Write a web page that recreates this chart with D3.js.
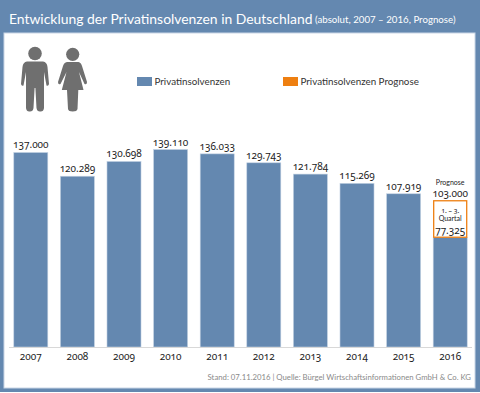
<!DOCTYPE html>
<html><head><meta charset="utf-8">
<script src="https://cdn.jsdelivr.net/npm/d3@7"></script>
<style>
html,body{margin:0;padding:0;background:#fff}
svg{display:block}
text{font-family:Lato,"Open Sans",sans-serif}
text.num,.tick text,tspan.num{font-family:"Noto Sans",Lato,sans-serif;font-variant-numeric:oldstyle-nums;font-feature-settings:"onum" 1}
</style></head><body>
<div id="c"></div>
<script>
const years=["2007","2008","2009","2010","2011","2012","2013","2014","2015","2016"];
const values=[137000,120289,130698,139110,136033,129743,121784,115269,107919,77325];
const labels=["137.000","120.289","130.698","139.110","136.033","129.743","121.784","115.269","107.919"];
const forecastYear="2016", forecastTotal=103000, forecastLabel="103.000", partialLabel="77.325";
const legendItems=["Privatinsolvenzen","Privatinsolvenzen Prognose"];
const title="Entwicklung der Privatinsolvenzen in Deutschland", subtitle="(absolut, 2007 – 2016, Prognose)";
const source="Stand: 07.11.2016 | Quelle: Bürgel Wirtschaftsinformationen GmbH & Co. KG";

const W=480,H=393,blue="#6488b0",orange="#ee7f11",ink="#222";
const svg=d3.select("#c").append("svg").attr("width",W).attr("height",H);
svg.append("rect").attr("width",W).attr("height",392).attr("fill",blue);
svg.append("rect").attr("x",4).attr("y",33).attr("width",471).attr("height",355).attr("fill","#fff").attr("stroke","#c9d6e6").attr("stroke-width",1);

svg.append("text").attr("x",9).attr("y",23.5).attr("fill","#fff").attr("font-size",13.9).text(title);
svg.append("text").attr("x",315).attr("y",23).attr("fill","#fff").attr("font-size",9.7).text(subtitle);

const x=d3.scaleBand().domain(years).range([7.5,473.5]).paddingInner(0.27).paddingOuter(0.135);
const y=d3.scaleLinear().domain([0,139110]).range([347,149.5]);

svg.append("g").selectAll("rect").data(years).join("rect")
 .attr("x",d=>x(d)).attr("width",x.bandwidth())
 .attr("y",(d,i)=>y(values[i])).attr("height",(d,i)=>y(0)-y(values[i]))
 .attr("fill",blue).attr("stroke","#c3d2e3").attr("stroke-width",0.6);

svg.append("rect").attr("x",x(forecastYear)+0.5).attr("width",x.bandwidth()-1)
 .attr("y",y(forecastTotal)).attr("height",y(values[9])-y(forecastTotal))
 .attr("fill","#fff").attr("stroke",orange).attr("stroke-width",1.3);

svg.append("g").selectAll("text").data(labels).join("text").attr("class","num")
 .attr("x",(d,i)=>x(years[i])+x.bandwidth()/2).attr("y",(d,i)=>y(values[i])-4)
 .attr("text-anchor","middle").attr("font-size",10).attr("fill",ink).text(d=>d);

const cx=x(forecastYear)+x.bandwidth()/2;
const note=(t,py,fs,c)=>svg.append("text").attr("class",c).attr("x",cx).attr("y",py).attr("text-anchor","middle").attr("font-size",fs).attr("fill",ink).text(t);
note("Prognose",185,7);
note(forecastLabel,197,10,"num");
note("1. – 3.",213,6.8,"num");
note("Quartal",220.5,7);
note(partialLabel,234,10,"num");

const axis=d3.axisBottom(x).tickSize(0).tickPadding(6);
const ag=svg.append("g").attr("transform",`translate(0,${y(0)})`).call(axis);
ag.select(".domain").attr("stroke","#d8d8d8").attr("d","M9,0.5H472");
ag.selectAll("text").attr("font-size",10).attr("fill",ink);
ag.attr("font-family",null);

svg.append("text").attr("x",471).attr("y",380).attr("text-anchor","end").attr("font-size",7.75).attr("fill","#8a8a8a").text(source);

const lx=[137,283];
legendItems.forEach((t,i)=>{
 svg.append("rect").attr("x",lx[i]).attr("y",77).attr("width",15).attr("height",9).attr("fill",i?orange:blue);
 svg.append("text").attr("x",lx[i]+17.5).attr("y",84.5).attr("font-size",9.8).attr("fill","#333").text(t);
});

const g=svg.append("g").attr("fill","#6f6f6f");
g.append("circle").attr("cx",35).attr("cy",53.5).attr("r",6.8);
g.append("path").attr("d","M27,61.5H43Q47,62 47.5,67L49,84Q48.5,86.5 46.5,85.5L44,72V108Q43.5,112 40,111.5Q37,111.5 36.5,108L35.4,88H34.6L33.5,108Q33,111.5 30,111.5Q26.5,112 26,108V72L23.5,85.5Q21.5,86.5 21,84L22.5,67Q23,62 27,61.5Z");
g.append("circle").attr("cx",72.7).attr("cy",54.3).attr("r",6.6);
g.append("path").attr("d","M67,62H78.5Q81,62.5 82,66L87,82Q87,85 84.5,84L79,72L83.5,90H78.3L77.5,109Q77,111.5 72.7,111.5Q68.4,111.5 68,109L67,90H61.8L66.5,72L60.5,84Q58,85 58,82L63,66Q64,62.5 67,62Z");
</script>
</body></html>
